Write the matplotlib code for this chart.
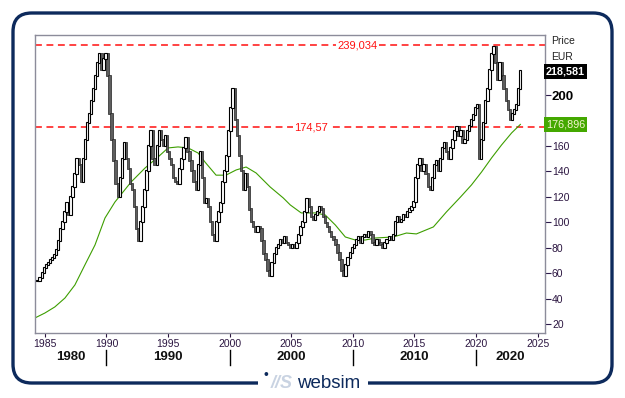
import matplotlib
matplotlib.use("Agg")
import matplotlib.pyplot as plt
import numpy as np
from matplotlib.patches import FancyBboxPatch

plt.rcParams['font.family'] = ['Liberation Sans', 'DejaVu Sans']

# ---------------- data (bi-monthly closes) ----------------
start_year = 1984.333          # first period shown
period = 1 / 6
closes = [
    54, 56, 60, 64,                          # 1984 (from May)
    66, 68, 70, 72, 74, 78,                  # 1985
    85, 95, 100, 108, 115, 106,              # 1986
    120, 128, 138, 150, 145, 132,            # 1987
    150, 165, 178, 185, 195, 205,            # 1988
    215, 225, 232, 220, 228, 232,            # 1989
    215, 185, 165, 148, 130, 120,            # 1990
    135, 150, 162, 150, 142, 130,            # 1991
    125, 112, 95, 85, 100, 112,              # 1992
    125, 140, 160, 172, 150, 145,            # 1993
    160, 172, 165, 160, 168, 155,            # 1994
    150, 145, 135, 132, 130, 142,            # 1995
    150, 158, 166, 155, 148, 140,            # 1996
    132, 125, 145, 155, 135, 115,            # 1997
    118, 112, 100, 90, 85, 100,              # 1998
    108, 115, 132, 140, 152, 172,            # 1999
    190, 205, 180, 168, 152, 140,            # 2000
    125, 138, 128, 110, 100, 96,             # 2001
    92, 96, 95, 85, 75, 70,                  # 2002
    62, 58, 68, 75, 80, 82,                  # 2003
    86, 84, 88, 84, 82, 80,                  # 2004
    82, 80, 84, 90, 96, 100,                 # 2005
    108, 118, 112, 104, 102, 106,            # 2006
    108, 112, 110, 104, 99, 96,              # 2007
    92, 88, 86, 82, 76, 70,                  # 2008
    62, 58, 66, 72, 76, 80,                  # 2009
    82, 86, 88, 84, 88, 90,                  # 2010
    88, 92, 90, 84, 82, 86,                  # 2011
    84, 82, 80, 84, 86, 88,                  # 2012
    86, 90, 100, 104, 100, 102,              # 2013
    106, 104, 108, 110, 112, 116,            # 2014
    135, 145, 150, 140, 145, 138,            # 2015
    128, 125, 135, 145, 148, 140,            # 2016
    150, 158, 162, 155, 150, 158,            # 2017
    165, 172, 175, 168, 172, 162,            # 2018
    165, 172, 176, 180, 184, 190,            # 2019
    192, 150, 165, 178, 195, 205,            # 2020
    220, 232, 238, 225, 212, 225,            # 2021
    215, 205, 195, 188, 180, 185,            # 2022
    188, 192, 205, 218.581,                  # 2023
]

ma_years = [1984.19, 1985.0, 1985.81, 1986.63, 1987.44, 1988.25, 1989.07, 1989.88,
            1990.69, 1992.0, 1993.13, 1994.19, 1995.0, 1995.81, 1996.63, 1997.44,
            1998.0, 1998.9, 1999.7, 2000.53, 2001.34, 2002.15, 2003.29, 2004.35,
            2004.92, 2005.81, 2006.95, 2007.76, 2008.58, 2009.39, 2010.2, 2011.0,
            2011.83, 2013.29, 2014.35, 2015.16, 2016.54, 2017.6, 2018.74, 2019.63,
            2020.45, 2021.26, 2022.07, 2022.89, 2023.6]
ma_values = [24.7, 28.6, 33.4, 40.4, 50.7, 66.4, 82.1, 103.3,
             115.9, 131.6, 142.6, 151.3, 158.4, 159.2, 158.4, 154.4,
             147.3, 137.0, 137.0, 141.1, 143.4, 138.7, 127.7, 119.1,
             113.6, 107.3, 107.3, 105.7, 97.8, 88.4, 86.0, 86.0,
             87.6, 88.4, 91.5, 90.8, 96.3, 108.1, 119.8, 129.3,
             139.5, 150.5, 160.7, 170.2, 176.896]

high_level = 239.034
support_level = 174.57
last_price = 218.581
ma_last = 176.896

year_ticks = [1985, 1990, 1995, 2000, 2005, 2010, 2015, 2020, 2025]
price_ticks = [20, 40, 60, 80, 100, 120, 140, 160, 200]
decades = [1980, 1990, 2000, 2010, 2020]

# ---------------- figure ----------------
W, H = 625, 398
fig = plt.figure(figsize=(W / 100, H / 100), dpi=100)
fig.patch.set_facecolor('white')

ax = fig.add_axes([35 / W, 1 - 333 / H, 510 / W, 298 / H])
xmin, xmax = 1984.2, 2025.6
ymin, ymax = 12.9, 247.2
ax.set_xlim(xmin, xmax)
ax.set_ylim(ymin, ymax)

# candles
closes_arr = np.array(closes, dtype=float)
opens_arr = np.concatenate([[closes_arr[0]], closes_arr[:-1]])
t = start_year + np.arange(len(closes_arr)) * period + period / 2
up = closes_arr >= opens_arr
bottoms = np.minimum(opens_arr, closes_arr)
heights = np.abs(closes_arr - opens_arr) + 0.8
ax.bar(t[~up], heights[~up], bottom=bottoms[~up], width=0.2,
       color='#5e5e5e', edgecolor='#222222', linewidth=0.5, zorder=3)
ax.bar(t[up], heights[up], bottom=bottoms[up], width=0.2,
       color='white', edgecolor='black', linewidth=0.8, zorder=3)

# moving average
ax.plot(ma_years, ma_values, color='#3d9e00', lw=0.8, zorder=2)

# horizontal levels
for lvl, xl, txt in [(high_level, 2010.4, '239,034'), (support_level, 2006.6, '174,57')]:
    ax.axhline(lvl, color='#ff1010', lw=1.1, ls=(0, (4.5, 3)), zorder=1)
    ax.text(xl, lvl, txt, color='#ff1010', fontsize=8, ha='center', va='center',
            zorder=4, bbox=dict(facecolor='white', edgecolor='none', pad=1.0))

for s in ax.spines.values():
    s.set_color('#8c8c9a')
    s.set_linewidth(1.0)

# y axis on right
ax.yaxis.tick_right()
ax.set_yticks(price_ticks)
ax.set_yticklabels([str(v) for v in price_ticks])
ax.tick_params(axis='y', which='both', direction='out', length=4, width=0.8,
               colors='#2b1a4a', labelsize=7.5, pad=1)
for lab in ax.get_yticklabels():
    lab.set_color('#2b1540')
    if lab.get_text() == '200':
        lab.set_fontweight('bold')
        lab.set_fontsize(9.5)
        lab.set_color('black')

# x axis
ax.set_xticks(year_ticks)
ax.set_xticklabels([str(v) for v in year_ticks])
ax.tick_params(axis='x', direction='out', length=3, width=0.8,
               colors='#2b1540', labelsize=7.5, pad=1)

# decade labels and separators
def xpix(yr):
    return (35 + (yr - xmin) / (xmax - xmin) * 510) / W

for d in decades:
    lo = max(d, xmin)
    hi = min(d + 10, xmax)
    fig.text(xpix((lo + hi) / 2), 1 - 357 / H, str(d), fontsize=9.5, fontweight='bold',
             ha='center', va='center', color='#111111')
    if d > xmin:
        fig.add_artist(plt.Line2D([xpix(d), xpix(d)], [1 - 350 / H, 1 - 365 / H],
                                  color='black', lw=1.0))

# right side labels
fig.text(551 / W, 1 - 41 / H, 'Price', fontsize=7.5, ha='left', va='center', color='#222222')
fig.text(551 / W, 1 - 57 / H, 'EUR', fontsize=7.5, ha='left', va='center', color='#222222')

ax.text(1.002, last_price, '218,581', transform=ax.get_yaxis_transform(),
        fontsize=7.8, fontweight='bold', color='white', ha='left', va='center', zorder=6,
        bbox=dict(boxstyle='square,pad=0.2', facecolor='black', edgecolor='none'),
        clip_on=False)
ax.text(1.002, ma_last, '176,896', transform=ax.get_yaxis_transform(),
        fontsize=7.8, color='#f4f4d0', ha='left', va='center', zorder=6,
        bbox=dict(boxstyle='square,pad=0.2', facecolor='#44a800', edgecolor='none'),
        clip_on=False)

# outer rounded frame
frame = FancyBboxPatch((13 / W, 1 - 383 / H), 599 / W, 370 / H,
                       boxstyle='round,pad=0,rounding_size=0.03',
                       transform=fig.transFigure, facecolor='none',
                       edgecolor='#0d2a5c', linewidth=2.4, zorder=0,
                       mutation_aspect=W / H)
fig.add_artist(frame)
# gap for logo
fig.add_artist(plt.Rectangle((258 / W, 1 - 390 / H), 110 / W, 14 / H,
                             transform=fig.transFigure, facecolor='white',
                             edgecolor='none', zorder=1))
fig.text(264 / W, 1 - 375 / H, '\u2022', fontsize=10, color='#0d2a5c', ha='left', va='center', zorder=2)
fig.text(271 / W, 1 - 383 / H, '//S', fontsize=13, fontweight='bold', style='italic',
         color='#c9d3e2', ha='left', va='center', zorder=2)
fig.text(297 / W, 1 - 383 / H, 'websim', fontsize=13.5, color='#0d2a5c', ha='left',
         va='center', zorder=2)

fig.savefig('out.png', dpi=100, facecolor='white')
